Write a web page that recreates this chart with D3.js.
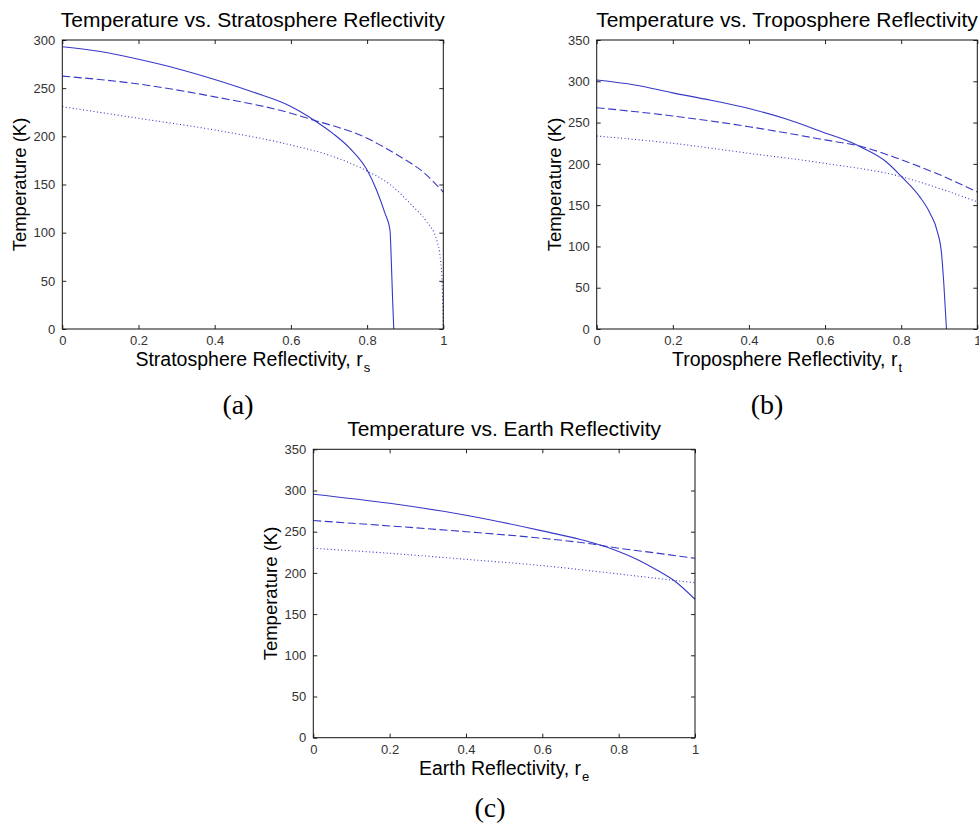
<!DOCTYPE html>
<html>
<head>
<meta charset="utf-8">
<script src="https://cdn.jsdelivr.net/npm/d3@7"></script>
<style>
  html, body { margin: 0; padding: 0; background: #fff; }
  svg { display: block; }
</style>
</head>
<body>
<svg id="chart" width="979" height="823"></svg>
<script>
// ---------- data ----------
const xTicks = [0, 0.2, 0.4, 0.6, 0.8, 1];
const xTickLabels = ["0", "0.2", "0.4", "0.6", "0.8", "1"];
const yTicksA = [0, 50, 100, 150, 200, 250, 300];
const yTicksBC = [0, 50, 100, 150, 200, 250, 300, 350];

// (a) Stratosphere reflectivity
const aSolidX = [0, 0.1, 0.2, 0.3, 0.4, 0.5, 0.6, 0.66, 0.71, 0.755, 0.8, 0.825, 0.847, 0.86, 0.864, 0.867, 0.87];
const aSolidY = [293, 288, 280, 270.5, 259, 246, 231, 217, 203, 187.5, 165, 144, 120, 103, 65, 30, 0];
const aDashX = [0, 0.2, 0.4, 0.6, 0.65, 0.8, 0.886, 0.947, 1.0];
const aDashY = [262.5, 254.3, 241, 224, 218, 198, 179, 163, 142];
const aDotX = [0, 0.2, 0.4, 0.6, 0.711, 0.8, 0.86, 0.921, 0.955, 0.983, 0.993, 0.997, 1.0];
const aDotY = [230.8, 218.7, 206.6, 191, 179, 164, 150, 127, 112, 92, 70, 47, 0];

// (b) Troposphere reflectivity
const bSolidX = [0, 0.1, 0.2, 0.3, 0.4, 0.5, 0.6, 0.674, 0.7, 0.762, 0.8, 0.849, 0.876, 0.895, 0.906, 0.912, 0.919];
const bSolidY = [301.5, 295.5, 286, 277, 267, 254, 237.5, 225, 219, 202, 185, 160, 140, 118, 91.6, 55, 0];
const bDashX = [0, 0.2, 0.4, 0.6, 0.7, 0.8, 0.9, 1.0];
const bDashY = [268, 258, 245, 229, 220.5, 205, 187, 166];
const bDotX = [0, 0.2, 0.4, 0.6, 0.8, 0.902, 1.0];
const bDotY = [233.7, 224.9, 212.8, 200.6, 184.5, 170, 154];

// (c) Earth reflectivity
const cSolidX = [0, 0.2, 0.4, 0.6, 0.7, 0.732, 0.8, 0.85, 0.9, 0.95, 1.0];
const cSolidY = [295.5, 284.5, 270, 251, 240.5, 236.5, 226, 216, 203.5, 189, 168];
const cDashX = [0, 0.2, 0.4, 0.6, 0.732, 0.8, 0.9, 1.0];
const cDashY = [263.5, 257, 250, 242, 235, 230, 224, 217.7];
const cDotX = [0, 0.2, 0.4, 0.6, 0.8, 0.9, 1.0];
const cDotY = [229.9, 223.8, 216.5, 208.8, 198.7, 193.4, 188];

const titles = ["Temperature vs. Stratosphere Reflectivity",
                "Temperature vs. Troposphere Reflectivity",
                "Temperature vs. Earth Reflectivity"];
const xLabels = ["Stratosphere Reflectivity, r", "Troposphere Reflectivity, r", "Earth Reflectivity, r"];
const xSubs = ["s", "t", "e"];
const yLabel = "Temperature (K)";
const captions = ["(a)", "(b)", "(c)"];

// ---------- layout ----------
const panels = [
  { left: 62.3, top: 40, w: 381, h: 289, ymax: 300, yTicks: yTicksA,
    series: [[aSolidX, aSolidY], [aDashX, aDashY], [aDotX, aDotY]], capX: 238, capY: 414 },
  { left: 596.7, top: 40, w: 380.6, h: 289, ymax: 350, yTicks: yTicksBC,
    series: [[bSolidX, bSolidY], [bDashX, bDashY], [bDotX, bDotY]], capX: 767, capY: 414 },
  { left: 313.3, top: 449.3, w: 381.7, h: 288.4, ymax: 350, yTicks: yTicksBC,
    series: [[cSolidX, cSolidY], [cDashX, cDashY], [cDotX, cDotY]], capX: 490, capY: 817 }
];
const dashes = [null, "8,3.5", "1,2.5"];
const lineColor = "#3838c8";
const sans = "'Liberation Sans', Arial, sans-serif";

const svg = d3.select("#chart");

panels.forEach((p, i) => {
  const g = svg.append("g").attr("transform", `translate(${p.left},${p.top})`);
  const x = d3.scaleLinear().domain([0, 1]).range([0, p.w]);
  const y = d3.scaleLinear().domain([0, p.ymax]).range([p.h, 0]);

  // axes with inward ticks
  const axB = d3.axisBottom(x).tickValues(xTicks).tickFormat((d, k) => xTickLabels[k]).tickSizeInner(-4).tickSizeOuter(0).tickPadding(7);
  const axT = d3.axisTop(x).tickValues(xTicks).tickFormat("").tickSizeInner(-4).tickSizeOuter(0);
  const axL = d3.axisLeft(y).tickValues(p.yTicks).tickSizeInner(-4).tickSizeOuter(0).tickPadding(7);
  const axR = d3.axisRight(y).tickValues(p.yTicks).tickFormat("").tickSizeInner(-4).tickSizeOuter(0);

  const gb = g.append("g").attr("transform", `translate(0,${p.h})`).call(axB);
  const gt = g.append("g").call(axT);
  const gl = g.append("g").call(axL);
  const gr = g.append("g").attr("transform", `translate(${p.w},0)`).call(axR);
  [gb, gt, gl, gr].forEach(a => {
    a.select(".domain").remove();
    a.selectAll(".tick line").attr("stroke", "#222").attr("stroke-width", 1);
    a.selectAll("text").attr("font-family", sans).attr("font-size", 13).attr("fill", "#333");
  });
  gb.selectAll(".tick text").attr("dy", "0.71em");

  // series
  p.series.forEach((s, k) => {
    const pts = s[0].map((xv, j) => [xv, s[1][j]]);
    g.append("path")
      .datum(pts)
      .attr("fill", "none")
      .attr("stroke", lineColor)
      .attr("stroke-width", 1.1)
      .attr("stroke-dasharray", dashes[k])
      .attr("d", d3.line().x(d => x(d[0])).y(d => y(d[1])).curve(d3.curveMonotoneX));
  });

  // box
  g.append("rect").attr("x", 0).attr("y", 0).attr("width", p.w).attr("height", p.h)
    .attr("fill", "none").attr("stroke", "#111").attr("stroke-width", 1);

  // title
  g.append("text").attr("x", p.w / 2).attr("y", -13).attr("text-anchor", "middle")
    .attr("font-family", sans).attr("font-size", 21).attr("fill", "#000").text(titles[i]);

  // x label with subscript
  const xl = g.append("text").attr("x", p.w / 2).attr("y", p.h + 37).attr("text-anchor", "middle")
    .attr("font-family", sans).attr("font-size", 19.5).attr("fill", "#000");
  xl.append("tspan").text(xLabels[i]);
  xl.append("tspan").attr("font-size", 13).attr("dy", 6).attr("dx", 1).text(xSubs[i]);

  // y label
  g.append("text").attr("transform", `translate(-36,${p.h / 2}) rotate(-90)`).attr("text-anchor", "middle")
    .attr("font-family", sans).attr("font-size", 18.5).attr("fill", "#000").text(yLabel);

  // caption
  svg.append("text").attr("x", p.capX).attr("y", p.capY).attr("text-anchor", "middle")
    .attr("font-family", "'Liberation Serif', 'DejaVu Serif', serif").attr("font-size", 28).attr("fill", "#000").text(captions[i]);
});
</script>
</body>
</html>
